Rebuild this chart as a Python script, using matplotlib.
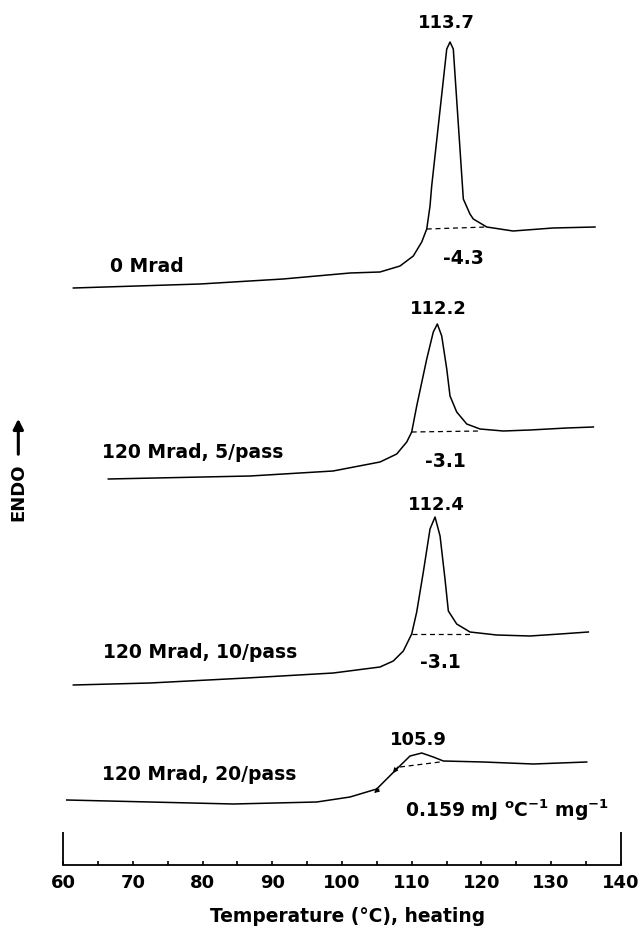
import numpy as np
import matplotlib
matplotlib.use("Agg")
import matplotlib.pyplot as plt

plt.rcParams['font.family'] = ['DejaVu Sans']
plt.rcParams['font.weight'] = 'bold'

# DSC heating traces (temperature in C, heat flow in arbitrary units, endo up)
t_0mrad = [61.44, 79.62, 91.53, 101.15, 105.45, 108.32, 110.23, 111.44, 112.16, 112.63,
           112.87, 115.03, 115.50, 115.97, 116.93, 117.41, 118.36, 118.84, 120.77, 124.54,
           130.28, 136.31]
q_0mrad = [0, 4, 9, 15, 16, 22, 32, 46, 59, 82,
           102, 239, 246, 239, 139, 89, 74, 69, 61, 57,
           60, 61]

t_5pass = [66.46, 86.80, 98.71, 105.45, 107.85, 109.29, 110.00, 110.72, 112.16, 113.10,
           113.68, 114.31, 115.03, 115.50, 116.46, 117.90, 119.81, 123.15, 126.98, 132.25,
           136.07]
q_5pass = [0, 3, 8, 17, 25, 37, 47, 73, 120, 147,
           155, 143, 110, 83, 67, 55, 50, 48, 49, 51,
           52]

t_10pass = [61.44, 72.44, 86.32, 98.75, 105.45, 107.36, 108.80, 110.00, 110.72, 111.67,
            112.63, 113.35, 114.07, 114.78, 115.26, 116.46, 118.37, 122.20, 126.98, 131.29,
            135.35]
q_10pass = [0, 2, 7, 12, 18, 24, 34, 51, 73, 113,
            156, 168, 149, 106, 74, 61, 53, 50, 49, 51,
            53]

t_20pass = [60.49, 72.44, 84.40, 96.37, 101.15, 104.98, 107.85, 109.76, 111.44, 113.10,
            114.54, 120.28, 127.46, 135.12]
q_20pass = [0, -2, -4, -2, 3, 11, 31, 44, 47, 43,
            39, 38, 36, 38]

# interpolated baselines under the melting peaks: (T start, q start, T end, q end)
base_0mrad = [112.16, 59, 120.77, 61]
base_5pass = [110.00, 47, 119.81, 48]
base_10pass = [110.00, 51, 118.84, 51]
base_20pass = [108.32, 33, 114.07, 38]

names = ['0 Mrad', '120 Mrad, 5/pass', '120 Mrad, 10/pass', '120 Mrad, 20/pass']
peak_labels = ['113.7', '112.2', '112.4', '105.9']
dh_labels = ['-4.3', '-3.1', '-3.1', '0.159 mJ $\\mathbf{^{o}C^{-1}}$ mg$\\mathbf{^{-1}}$']
offsets = [577, 386, 180, 65]

fig = plt.figure(figsize=(6.44, 9.29), dpi=100)
ax = fig.add_axes([0, 63 / 929, 1, 866 / 929])
ax.set_xlim(50.915, 143.34)
ax.set_ylim(0, 866)

traces = [(t_0mrad, q_0mrad, base_0mrad), (t_5pass, q_5pass, base_5pass),
          (t_10pass, q_10pass, base_10pass), (t_20pass, q_20pass, base_20pass)]
for (t, q, b), off in zip(traces, offsets):
    ax.plot(t, np.array(q) + off, color='black', lw=1.1, solid_joinstyle='round')
    ax.plot([b[0], b[2]], [b[1] + off, b[3] + off], color='black', lw=0.9,
            ls=(0, (4, 3)))

fs = 13.5
pk = 13
# peak temperatures and heats of fusion
ax.text(115.03, 843, peak_labels[0], ha='center', va='center', fontsize=pk)
ax.text(117.37, 608, dh_labels[0], ha='center', va='center', fontsize=fs)
ax.text(113.82, 557, peak_labels[1], ha='center', va='center', fontsize=pk)
ax.text(114.78, 404, dh_labels[1], ha='center', va='center', fontsize=fs)
ax.text(113.59, 361, peak_labels[2], ha='center', va='center', fontsize=pk)
ax.text(114.07, 203, dh_labels[2], ha='center', va='center', fontsize=fs)
ax.text(110.95, 126, peak_labels[3], ha='center', va='center', fontsize=pk)
ax.text(109.04, 56, dh_labels[3], ha='left', va='center', fontsize=fs)

# sample names
ax.text(66.7, 600, names[0], ha='left', va='center', fontsize=fs)
ax.text(65.51, 413, names[1], ha='left', va='center', fontsize=fs)
ax.text(65.74, 213, names[2], ha='left', va='center', fontsize=fs)
ax.text(65.51, 91, names[3], ha='left', va='center', fontsize=fs)

# direction marks on the 20/pass trace
for (x0, y0), (x1, y1) in [((105.3, 76), (104.6, 72)), ((108.0, 98), (107.3, 92))]:
    ax.annotate('', xy=(x1, y1), xytext=(x0, y0),
                arrowprops=dict(arrowstyle='-|>', color='black', lw=0.8,
                                mutation_scale=7, shrinkA=0, shrinkB=0))

# temperature axis
for s in ['top', 'left', 'right']:
    ax.spines[s].set_visible(False)
ax.spines['bottom'].set_bounds(60, 140)
ax.spines['bottom'].set_linewidth(1.3)
ax.vlines([60, 140], 0, 33, color='black', lw=1.3)
ax.set_yticks([])
ax.set_xticks(np.arange(60, 141, 10))
ax.set_xticks(np.arange(65, 140, 10), minor=True)
ax.tick_params(axis='x', which='both', direction='in', length=3, width=1.2, pad=6,
               labelsize=13)
fig.text(348 / 644, 1 - 917 / 929, 'Temperature (°C), heating', ha='center',
         va='center', fontsize=13.4)

# endothermic direction
fig.text(18.3 / 644, 1 - 492 / 929, 'ENDO', rotation=90, ha='center', va='center',
         fontsize=13)
fig.patches.append(matplotlib.patches.FancyArrowPatch(
    (18.3 / 644, 1 - 458 / 929), (18.3 / 644, 1 - 417 / 929),
    transform=fig.transFigure, arrowstyle='-|>', mutation_scale=15,
    color='black', lw=2.2))

fig.savefig('out.png', dpi=100)
